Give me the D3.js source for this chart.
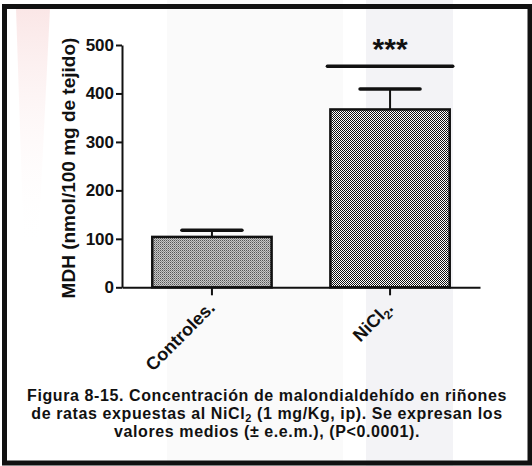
<!DOCTYPE html>
<html>
<head>
<meta charset="utf-8">
<title>MDH renal</title>
<script src="https://d3js.org/d3.v7.min.js"></script>
<style>
  body { margin: 0; background: #fff; }
  svg text { font-family: "Liberation Sans", Arial, sans-serif; font-weight: bold; fill: #111; }
  .axis path, .axis line { stroke: #111; stroke-width: 2px; }
  .axis text { font-size: 17px; }
</style>
</head>
<body>
<div id="chart"></div>
<script>
// datos
var categorias = ["Controles.", "NiCl2."];
var medias = [104, 367];
var eem = [13.5, 42];
var ticksY = [0, 100, 200, 300, 400, 500];
var signifValor = 456;
var signifTexto = "***";
var pieLineas = [
  ["Figura 8-15. Concentración de malondialdehído en riñones"],
  ["de ratas expuestas al NiCl", "2", " (1 mg/Kg, ip). Se expresan los"],
  ["valores medios (± e.e.m.), (P<0.0001)."]
];

var W = 532, H = 466;
var svg = d3.select('#chart').append('svg')
  .attr('width', W).attr('height', H)
  .style('display', 'block');

// patrones de relleno
var defs = svg.append('defs');
var p1 = defs.append('pattern').attr('id', 'pat1')
  .attr('patternUnits', 'userSpaceOnUse').attr('width', 2).attr('height', 2);
p1.append('rect').attr('width', 2).attr('height', 2).attr('fill', '#c8c8c8');
p1.append('rect').attr('width', 1).attr('height', 1).attr('fill', '#555');
p1.append('rect').attr('x', 1).attr('y', 1).attr('width', 1).attr('height', 1).attr('fill', '#8a8a8a');
var p2 = defs.append('pattern').attr('id', 'pat2')
  .attr('patternUnits', 'userSpaceOnUse').attr('width', 2).attr('height', 2);
p2.append('rect').attr('width', 2).attr('height', 2).attr('fill', '#fff');
p2.append('rect').attr('width', 1).attr('height', 1).attr('fill', '#111');
p2.append('rect').attr('x', 1).attr('y', 1).attr('width', 1).attr('height', 1).attr('fill', '#111');
var gr = defs.append('linearGradient').attr('id', 'rosa')
  .attr('x1', 0).attr('y1', 0).attr('x2', 0).attr('y2', 1);
gr.append('stop').attr('offset', '0%').attr('stop-color', '#fae6e6');
gr.append('stop').attr('offset', '100%').attr('stop-color', '#fff').attr('stop-opacity', 0);

// fondo (bandas claras del escaneo)
svg.append('rect').attr('width', W).attr('height', H).attr('fill', '#fff');
svg.append('rect').attr('x', 167).attr('y', 0).attr('width', 176).attr('height', H).attr('fill', '#fafafa');
svg.append('rect').attr('x', 366).attr('y', 0).attr('width', 87).attr('height', H).attr('fill', '#f3f3f6');
svg.append('path').attr('d', 'M16,8 L50,8 L38,250 L24,250 Z').attr('fill', 'url(#rosa)');

// escalas
var y = d3.scaleLinear().domain([0, 500]).range([287.3, 45]);
var x = d3.scaleBand().domain(categorias).range([122, 480])
  .paddingInner(0.33).paddingOuter(0.17);

var datos = categorias.map(function(c, i) { return {cat: c, m: medias[i], e: eem[i]}; });

// barras
svg.append('g').selectAll('rect').data(datos).enter().append('rect')
  .attr('x', d => x(d.cat))
  .attr('y', d => y(d.m))
  .attr('width', x.bandwidth())
  .attr('height', d => y(0) - y(d.m))
  .attr('fill', (d, i) => i === 0 ? 'url(#pat1)' : 'url(#pat2)')
  .attr('stroke', '#111').attr('stroke-width', 2.5);

// barras de error
var err = svg.append('g').selectAll('g').data(datos).enter().append('g');
err.append('line')
  .attr('x1', d => x(d.cat) + x.bandwidth() / 2).attr('x2', d => x(d.cat) + x.bandwidth() / 2)
  .attr('y1', d => y(d.m)).attr('y2', d => y(d.m + d.e))
  .attr('stroke', '#111').attr('stroke-width', 2);
err.append('line')
  .attr('x1', d => x(d.cat) + x.bandwidth() / 2 - 30).attr('x2', d => x(d.cat) + x.bandwidth() / 2 + 30)
  .attr('y1', d => y(d.m + d.e)).attr('y2', d => y(d.m + d.e))
  .attr('stroke', '#111').attr('stroke-width', 3.5).attr('stroke-linecap', 'round');

// ejes
svg.append('g').attr('class', 'axis').attr('transform', 'translate(122,0)')
  .call(d3.axisLeft(y).tickValues(ticksY).tickSize(6).tickSizeOuter(0).tickPadding(2));
svg.append('g').attr('class', 'axis').attr('transform', 'translate(0,' + y(0) + ')')
  .call(d3.axisBottom(x).tickSize(8).tickSizeOuter(0).tickFormat(''));

// etiquetas del eje x (rotadas)
var etq = svg.append('g').selectAll('text').data(categorias).enter().append('text')
  .attr('transform', d => 'translate(' + (x(d) + x.bandwidth() / 2 + 4) + ',309) rotate(-45)')
  .attr('text-anchor', 'end')
  .style('font-size', '18px');
etq.each(function(d) {
  var t = d3.select(this);
  var m = d.match(/^(NiCl)(2)(\.)$/);
  if (m) {
    t.append('tspan').text(m[1]);
    t.append('tspan').attr('dy', 4).style('font-size', '12px').text(m[2]);
    t.append('tspan').attr('dy', -4).text(m[3]);
  } else {
    t.text(d);
  }
});

// titulo eje y
svg.append('text')
  .attr('transform', 'translate(75,168) rotate(-90)')
  .attr('text-anchor', 'middle')
  .style('font-size', '19px')
  .text('MDH (nmol/100 mg de tejido)');

// significancia
var c2 = categorias[1];
svg.append('line')
  .attr('x1', x(c2) - 3).attr('x2', x(c2) + x.bandwidth() + 3)
  .attr('y1', y(signifValor)).attr('y2', y(signifValor))
  .attr('stroke', '#111').attr('stroke-width', 3.5).attr('stroke-linecap', 'round');
svg.append('text')
  .attr('x', x(c2) + x.bandwidth() / 2).attr('y', y(signifValor) - 7)
  .attr('text-anchor', 'middle')
  .style('font-size', '30px')
  .text(signifTexto);

// pie de figura
var baseY = [401, 419, 437];
pieLineas.forEach(function(partes, i) {
  var t = svg.append('text')
    .attr('x', 267).attr('y', baseY[i])
    .attr('text-anchor', 'middle')
    .style('font-size', '16px')
    .style('letter-spacing', '0.6px');
  if (partes.length === 1) {
    t.text(partes[0]);
  } else {
    t.append('tspan').text(partes[0]);
    t.append('tspan').attr('dy', 3).style('font-size', '11px').text(partes[1]);
    t.append('tspan').attr('dy', -3).text(partes[2]);
  }
});

// marco
svg.append('rect')
  .attr('x', 4.5).attr('y', 6.5).attr('width', 525.5).attr('height', 456.5)
  .attr('fill', 'none').attr('stroke', '#111').attr('stroke-width', 5);
</script>
</body>
</html>
